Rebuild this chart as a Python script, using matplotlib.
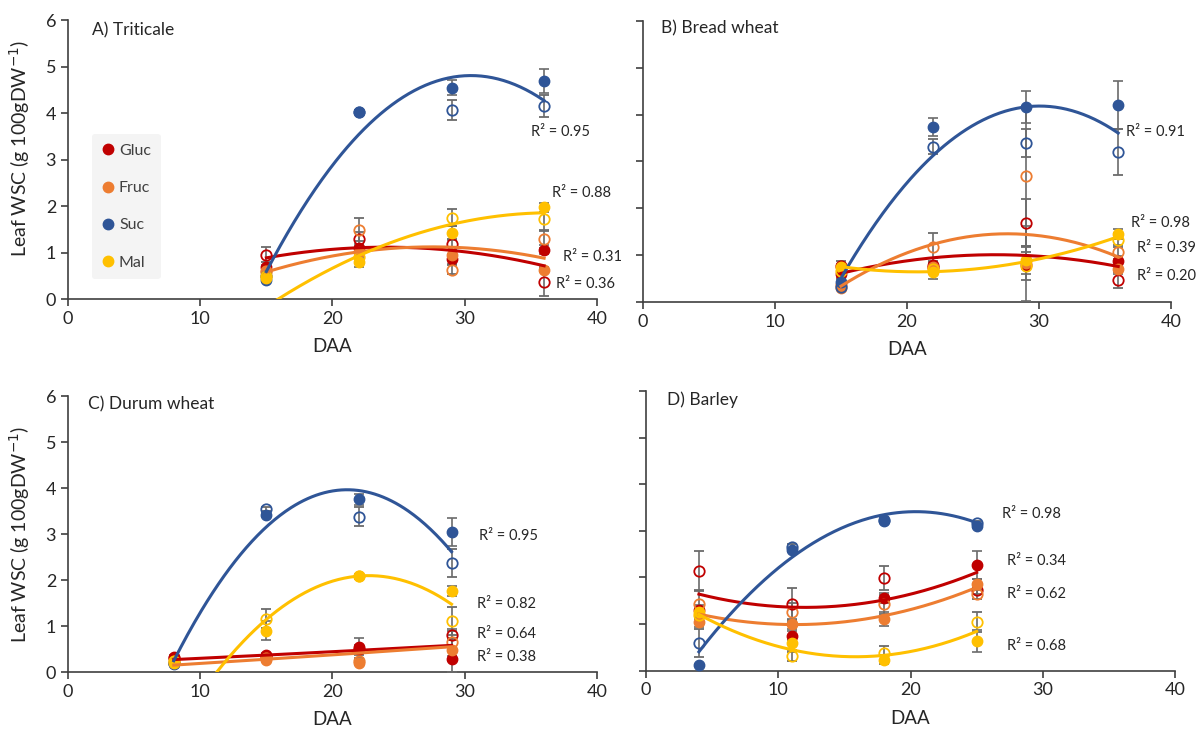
import numpy as np
import matplotlib.pyplot as plt
from matplotlib.lines import Line2D

plt.rcParams['font.family'] = ['Lato', 'DejaVu Sans']

sugars = ['Gluc', 'Fruc', 'Suc', 'Mal']
colors = ['#C00000', '#ED7D31', '#2F5597', '#FFC000']

# A) Triticale  (rows: Gluc, Fruc, Suc, Mal)
a_x = [15, 22, 29, 36]
a_filled = [[0.69, 1.09, 0.86, 1.06], [0.58, 1.02, 0.95, 0.63],
            [0.41, 4.02, 4.54, 4.69], [0.45, 0.79, 1.43, 1.97]]
a_filled_err = [[0.05, 0.10, 0.10, 0.10], [0.05, 0.10, 0.10, 0.05],
                [0.05, 0.05, 0.16, 0.25], [0.05, 0.10, 0.15, 0.10]]
a_open = [[0.95, 1.29, 1.18, 0.36], [0.60, 1.49, 0.63, 1.29],
          [0.49, 4.02, 4.06, 4.15], [0.50, 0.90, 1.75, 1.72]]
a_open_err = [[0.16, 0.15, 0.12, 0.30], [0.10, 0.25, 0.10, 0.20],
              [0.05, 0.05, 0.21, 0.23], [0.05, 0.10, 0.18, 0.25]]
a_trend = [[0.89, 1.09, 1.06, 0.71], [0.58, 1.02, 1.11, 0.88],
           [0.59, 3.55, 4.76, 4.27], [-0.17, 0.95, 1.59, 1.86]]
a_r2 = ['0.95', '0.88', '0.31', '0.36']

# B) Bread wheat
b_x = [15, 22, 29, 36]
b_filled = [[0.60, 0.79, 0.79, 0.88], [0.29, 0.75, 0.82, 0.69],
            [0.43, 3.74, 4.16, 4.21], [0.75, 0.64, 0.89, 1.45]]
b_filled_err = [[0.10, 0.15, 0.10, 0.10], [0.05, 0.10, 0.80, 0.10],
                [0.05, 0.20, 0.34, 0.52], [0.05, 0.15, 0.30, 0.10]]
b_open = [[0.77, 0.75, 1.69, 0.46], [0.35, 1.16, 2.68, 1.07],
          [0.32, 3.32, 3.39, 3.20], [0.65, 0.70, 0.77, 1.31]]
b_open_err = [[0.10, 0.10, 0.50, 0.17], [0.05, 0.30, 1.50, 0.15],
              [0.05, 0.15, 0.30, 0.50], [0.05, 0.10, 0.30, 0.15]]
b_trend = [[0.61, 0.93, 1.00, 0.75], [0.34, 1.21, 1.46, 0.95],
           [0.50, 3.14, 4.16, 3.61], [0.75, 0.64, 0.86, 1.39]]
b_r2 = ['0.91', '0.98', '0.39', '0.20']

# C) Durum wheat
c_x = [8, 15, 22, 29]
c_filled = [[0.33, 0.37, 0.55, 0.29], [0.22, 0.27, 0.20, 0.47],
            [0.17, 3.41, 3.76, 3.04], [0.20, 0.90, 2.08, 1.76]]
c_filled_err = [[0.03, 0.05, 0.19, 0.05], [0.03, 0.05, 0.05, 0.47],
                [0.03, 0.05, 0.12, 0.30], [0.03, 0.20, 0.05, 0.10]]
c_open = [[0.30, 0.35, 0.49, 0.80], [0.20, 0.30, 0.25, 0.65],
          [0.20, 3.54, 3.38, 2.37], [0.25, 1.16, 2.08, 1.11]]
c_open_err = [[0.03, 0.05, 0.10, 0.10], [0.03, 0.05, 0.05, 0.10],
              [0.03, 0.05, 0.20, 0.30], [0.03, 0.20, 0.05, 0.30]]
c_trend = [[0.27, 0.37, 0.47, 0.58], [0.15, 0.28, 0.41, 0.55],
           [0.24, 3.17, 3.93, 2.62], [-1.35, 1.13, 2.10, 1.47]]
c_r2 = ['0.95', '0.82', '0.64', '0.38']

# D) Barley
d_x = [4, 11, 18, 25]
d_filled = [[1.30, 0.75, 1.56, 2.26], [1.04, 1.00, 1.10, 1.87],
            [0.12, 2.59, 3.21, 3.10], [1.25, 0.59, 0.24, 0.64]]
d_filled_err = [[0.10, 0.10, 0.10, 0.30], [0.10, 0.10, 0.15, 0.10],
                [0.02, 0.05, 0.05, 0.05], [0.10, 0.15, 0.10, 0.23]]
d_open = [[2.14, 1.43, 1.99, 1.74], [1.43, 1.25, 1.42, 1.64],
          [0.59, 2.66, 3.24, 3.16], [1.20, 0.31, 0.39, 1.05]]
d_open_err = [[0.43, 0.35, 0.25, 0.10], [0.30, 0.20, 0.20, 0.10],
              [0.30, 0.05, 0.05, 0.05], [0.10, 0.10, 0.15, 0.21]]
d_trend = [[1.64, 1.37, 1.51, 2.11], [1.21, 1.00, 1.17, 1.79],
           [0.41, 2.41, 3.36, 3.17], [1.21, 0.44, 0.34, 0.84]]
d_r2 = ['0.98', '0.34', '0.62', '0.68']

text_color = '#262626'
axis_color = '#404040'
err_color = '#6b6b6b'


def draw_panel(ax, title, x, filled, filled_err, opn, opn_err, trend, r2, r2_pos, title_pos, ylabels):
    for i in range(4):
        c = colors[i]
        #Filled and open markers with error bars.
        ax.errorbar(x, filled[i], yerr=filled_err[i], fmt='o', color=c, ecolor=err_color,
                    elinewidth=1.2, capsize=3.5, capthick=1.2, markersize=7.5, zorder=3)
        ax.errorbar(x, opn[i], yerr=opn_err[i], fmt='o', mfc='none', mec=c, mew=1.3,
                    ecolor=err_color, elinewidth=1.2, capsize=3.5, capthick=1.2,
                    markersize=7.5, zorder=3)
        #Polynomial (order 2) trend line.
        coef = np.polyfit(x, trend[i], 2)
        xs = np.linspace(x[0], x[-1], 200)
        ax.plot(xs, np.polyval(coef, xs), color=c, lw=2.2, zorder=4)

    for txt, (px, py) in zip(r2, r2_pos):
        ax.text(px, py, 'R² = ' + txt, fontsize=10.5, color=text_color, va='center', ha='left', clip_on=False)

    ax.text(title_pos[0], title_pos[1], title, transform=ax.transAxes, fontsize=12.5,
            color=text_color, va='center', ha='left')

    ax.set_xlim(0, 40)
    ax.set_ylim(0, 6)
    ax.set_xticks([0, 10, 20, 30, 40])
    ax.set_yticks([0, 1, 2, 3, 4, 5, 6])
    for side in ['top', 'right']:
        ax.spines[side].set_visible(False)
    for side in ['left', 'bottom']:
        ax.spines[side].set_color(axis_color)
        ax.spines[side].set_linewidth(1.2)
    ax.tick_params(direction='out', length=5, width=1.2, color=axis_color,
                   labelsize=13, labelcolor=text_color)
    ax.set_xlabel('DAA', fontsize=13.5, color=text_color, labelpad=8)
    if ylabels:
        ax.set_ylabel(r'Leaf WSC (g 100gDW$^{-1}$)', fontsize=14, color=text_color)
    else:
        ax.set_yticklabels([])


fig = plt.figure(figsize=(12.01, 7.42), dpi=100)
ax_a = fig.add_axes([0.0566, 0.597, 0.4405, 0.376])
ax_b = fig.add_axes([0.5354, 0.5934, 0.4396, 0.378])
ax_c = fig.add_axes([0.0566, 0.0943, 0.4405, 0.372])
ax_d = fig.add_axes([0.5379, 0.0961, 0.4405, 0.377])

draw_panel(ax_a, 'A) Triticale', a_x, a_filled, a_filled_err, a_open, a_open_err, a_trend, a_r2,
           [(35.0, 3.6), (36.6, 2.29), (37.45, 0.91), (36.9, 0.33)], (0.045, 0.964), True)
draw_panel(ax_b, 'B) Bread wheat', b_x, b_filled, b_filled_err, b_open, b_open_err, b_trend, b_r2,
           [(36.56, 3.64), (36.97, 1.69), (37.4, 1.14), (37.4, 0.55)], (0.034, 0.975), False)
draw_panel(ax_c, 'C) Durum wheat', c_x, c_filled, c_filled_err, c_open, c_open_err, c_trend, c_r2,
           [(31.1, 2.95), (30.95, 1.47), (30.95, 0.83), (30.95, 0.33)], (0.038, 0.971), True)
draw_panel(ax_d, 'D) Barley', d_x, d_filled, d_filled_err, d_open, d_open_err, d_trend, d_r2,
           [(26.9, 3.36), (27.3, 2.35), (27.3, 1.64), (27.3, 0.53)], (0.04, 0.967), False)

ax_a.yaxis.set_label_coords(-0.068, 0.54)
ax_c.yaxis.set_label_coords(-0.068, 0.5)

#Legend in panel A.
handles = [Line2D([], [], marker='o', ls='none', color=c, markersize=7.5) for c in colors]
leg = ax_a.legend(handles, sugars, loc='upper left', bbox_to_anchor=(0.03, 0.62), fontsize=11.5,
                  frameon=True, facecolor='#f4f4f4', edgecolor='none', framealpha=1,
                  handlelength=0.8, handletextpad=0.3, labelspacing=1.45, borderpad=0.6)
for t in leg.get_texts():
    t.set_color('#404040')

fig.savefig('out.png', dpi=100)
